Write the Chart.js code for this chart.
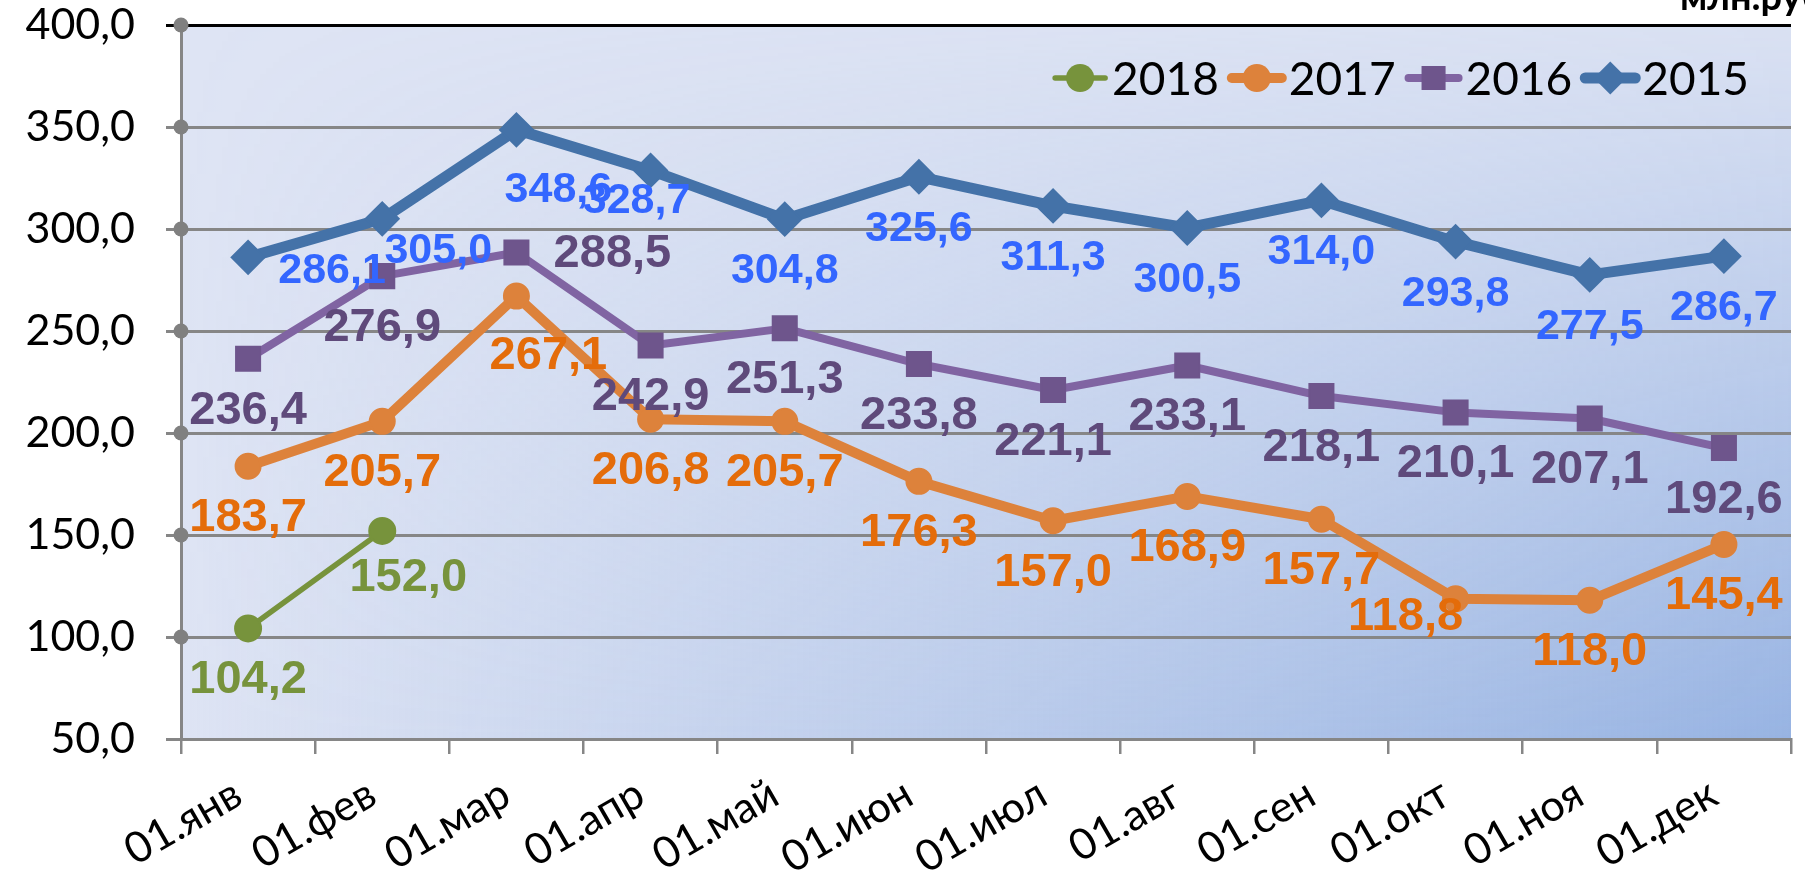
<!DOCTYPE html>
<html>
<head>
<meta charset="utf-8">
<script src="https://cdn.jsdelivr.net/npm/chart.js@4"></script>
<style>
  html, body { margin: 0; padding: 0; background: #fff; overflow: hidden; }
  #wrap { width: 1810px; height: 872px; }
</style>
</head>
<body>
<div id="wrap"><canvas id="chart"></canvas></div>
<script>
var months = ['01.янв', '01.фев', '01.мар', '01.апр', '01.май', '01.июн',
              '01.июл', '01.авг', '01.сен', '01.окт', '01.ноя', '01.дек'];
var years = ['2018', '2017', '2016', '2015'];
var values2018 = [104.2, 152.0];
var values2017 = [183.7, 205.7, 267.1, 206.8, 205.7, 176.3, 157.0, 168.9, 157.7, 118.8, 118.0, 145.4];
var values2016 = [236.4, 276.9, 288.5, 242.9, 251.3, 233.8, 221.1, 233.1, 218.1, 210.1, 207.1, 192.6];
var values2015 = [286.1, 305.0, 348.6, 328.7, 304.8, 325.6, 311.3, 300.5, 314.0, 293.8, 277.5, 286.7];
var yTicks = [50, 100, 150, 200, 250, 300, 350, 400];

// label nudges (px) from the default "below" spot, where labels were moved by hand
var nudge2018 = {1: [26, -5]};
var nudge2017 = {2: [32, 8], 9: [-50, -34]};
var nudge2016 = {2: [96, -50]};
var nudge2015 = {0: [84, -38], 1: [56, -20], 2: [42, 8], 3: [-14, -21]};

var fontTicks = 'Lato, "Noto Sans", sans-serif';
var fontLabels = '"Liberation Sans", Arial, sans-serif';

function fmt(v) {
  return v.toFixed(1).replace('.', ',');
}

var series = [
  {label: '2018', data: values2018, line: '#77933c', mark: '#77933c', text: '#77933c', width: 5.5, style: 'circle', r: 13, size: 47, nudge: nudge2018, order: 3},
  {label: '2017', data: values2017, line: '#dd823b', mark: '#dd823b', text: '#e46c0a', width: 10, style: 'circle', r: 12.5, size: 47, nudge: nudge2017, order: 2},
  {label: '2016', data: values2016, line: '#8064a2', mark: '#6e558c', text: '#5f4a7b', width: 8, style: 'rect', r: 17, size: 47, nudge: nudge2016, order: 1},
  {label: '2015', data: values2015, line: '#4472a8', mark: '#4472a8', text: '#3366ff', width: 11, style: 'rectRot', r: 16.5, size: 43, nudge: nudge2015, order: 0}
];

var bgPlugin = {
  id: 'bg',
  beforeDraw: function(chart) {
    var a = chart.chartArea, ctx = chart.ctx;
    var w = Math.ceil(a.right - a.left), h = Math.ceil(a.bottom - a.top);
    ctx.save();
    ctx.fillStyle = '#dee4f4';
    ctx.fillRect(a.left, a.top, w, h);
    var off = document.createElement('canvas');
    off.width = w; off.height = h;
    var o = off.getContext('2d');
    var gx = o.createLinearGradient(0, 0, w, 0);
    gx.addColorStop(0, 'rgba(151,179,226,0)');
    gx.addColorStop(1, 'rgba(151,179,226,1)');
    o.fillStyle = gx;
    o.fillRect(0, 0, w, h);
    o.globalCompositeOperation = 'destination-in';
    var gy = o.createLinearGradient(0, 0, 0, h);
    gy.addColorStop(0, 'rgba(0,0,0,0.05)');
    gy.addColorStop(1, 'rgba(0,0,0,1)');
    o.fillStyle = gy;
    o.fillRect(0, 0, w, h);
    ctx.drawImage(off, a.left, a.top);
    ctx.restore();
  },
  afterDraw: function(chart) {
    var ctx = chart.ctx;
    ctx.save();
    ctx.fillStyle = '#000';
    ctx.font = 'bold 38px ' + fontTicks;
    ctx.textBaseline = 'alphabetic';
    ctx.fillText('млн.руб.', 1680, 10);
    ctx.restore();
  }
};

function drawMarker(ctx, style, r, color, x, y) {
  ctx.fillStyle = color;
  ctx.beginPath();
  if (style === 'circle') {
    ctx.arc(x, y, r, 0, Math.PI * 2);
  } else if (style === 'rect') {
    var s = r * Math.SQRT1_2;
    ctx.rect(x - s, y - s, 2 * s, 2 * s);
  } else {
    ctx.moveTo(x, y - r); ctx.lineTo(x + r, y); ctx.lineTo(x, y + r); ctx.lineTo(x - r, y);
    ctx.closePath();
  }
  ctx.fill();
}

var decoPlugin = {
  id: 'deco',
  afterDatasetsDraw: function(chart) {
    var ctx = chart.ctx, a = chart.chartArea, ys = chart.scales.y;
    ctx.save();
    // gray dots where the gridlines meet the value axis
    ctx.fillStyle = '#808080';
    yTicks.forEach(function(v) {
      if (v === 50) return;
      ctx.beginPath();
      ctx.arc(a.left, ys.getPixelForValue(v), 7.5, 0, Math.PI * 2);
      ctx.fill();
    });
    // data labels
    ctx.textAlign = 'center';
    ctx.textBaseline = 'middle';
    chart.data.datasets.forEach(function(ds, i) {
      var s = series[i];
      var meta = chart.getDatasetMeta(i);
      ctx.fillStyle = s.text;
      ctx.font = 'bold ' + s.size + 'px ' + fontLabels;
      meta.data.forEach(function(pt, j) {
        var n = s.nudge[j] || [0, 0];
        ctx.fillText(fmt(ds.data[j]), pt.x + n[0], pt.y + 52 + n[1]);
      });
    });
    // legend
    ctx.font = '46px ' + fontTicks;
    ctx.textAlign = 'left';
    var cy = 78, sw = 56, gap = 4, between = 10;
    var total = 0;
    series.forEach(function(s) { total += sw + gap + ctx.measureText(s.label).width; });
    total += between * (series.length - 1);
    var x = a.right - 42 - total;
    series.forEach(function(s) {
      ctx.strokeStyle = s.line;
      ctx.lineWidth = s.width;
      ctx.lineCap = 'round';
      ctx.beginPath();
      ctx.moveTo(x + 3, cy); ctx.lineTo(x + sw - 3, cy);
      ctx.stroke();
      drawMarker(ctx, s.style, s.style === 'circle' ? 14 : s.r, s.mark, x + sw / 2, cy);
      ctx.fillStyle = '#000';
      ctx.fillText(s.label, x + sw + gap, cy + 2);
      x += sw + gap + ctx.measureText(s.label).width + between;
    });
    ctx.restore();
  }
};

var datasets = series.map(function(s) {
  return {
    label: s.label,
    data: s.data,
    borderColor: s.line,
    borderWidth: s.width,
    borderJoinStyle: 'round',
    borderCapStyle: 'round',
    backgroundColor: s.mark,
    pointBackgroundColor: s.mark,
    pointBorderColor: s.mark,
    pointBorderWidth: 2,
    pointStyle: s.style,
    pointRadius: s.r,
    tension: 0,
    fill: false,
    order: s.order
  };
});

var ctx = document.getElementById('chart').getContext('2d');
var myChart = new Chart(ctx, {
  type: 'line',
  data: { labels: months, datasets: datasets },
  options: {
    responsive: true,
    maintainAspectRatio: false,
    animation: false,
    layout: { padding: { top: 25, left: 0, right: 0, bottom: 0 } },
    plugins: { legend: { display: false }, tooltip: { enabled: false } },
    scales: {
      x: {
        offset: true,
        grid: { offset: true, drawOnChartArea: false, drawTicks: true, tickLength: 15, color: '#868686', lineWidth: 2.5 },
        border: { color: '#868686', width: 3 },
        ticks: {
          autoSkip: false, minRotation: 30, maxRotation: 30, padding: 18, labelOffset: -10,
          color: '#000', font: { family: fontTicks, size: 43, lineHeight: 1 }
        },
        afterFit: function(scale) { scale.height = 133; }
      },
      y: {
        min: 50, max: 400,
        afterBuildTicks: function(scale) { scale.ticks = yTicks.map(function(v) { return {value: v}; }); },
        grid: {
          tickLength: 15, lineWidth: 3,
          color: function(c) { return c.tick && c.tick.value === 400 ? '#000' : '#868686'; }
        },
        border: { color: '#868686', width: 3 },
        ticks: {
          padding: 31, color: '#000', font: { family: fontTicks, size: 43, lineHeight: 1 },
          callback: function(v) { return fmt(v); }
        },
        afterFit: function(scale) {
          scale.width = 181;
          scale.paddingTop = 0;
          scale.paddingBottom = 0;
        }
      }
    }
  },
  plugins: [bgPlugin, decoPlugin]
});
</script>
</body>
</html>
